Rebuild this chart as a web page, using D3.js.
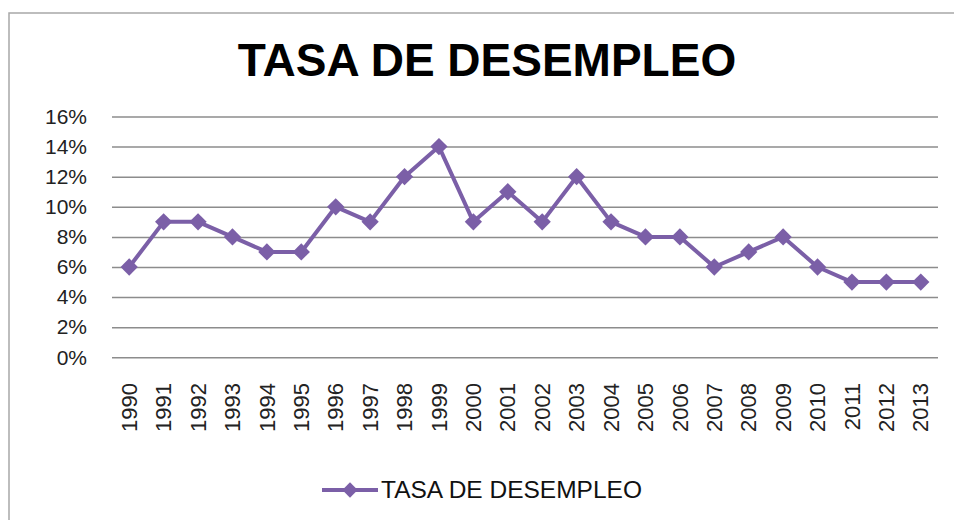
<!DOCTYPE html>
<html>
<head>
<meta charset="utf-8">
<script src="https://cdn.jsdelivr.net/npm/d3@7"></script>
<style>
  body { margin: 0; background: #fff; }
  svg { display: block; font-family: Arial, "Liberation Sans", sans-serif; }
</style>
</head>
<body>
<svg id="chart" width="954" height="520"></svg>
<script>
// datos
var years = ['1990','1991','1992','1993','1994','1995','1996','1997','1998','1999','2000','2001',
             '2002','2003','2004','2005','2006','2007','2008','2009','2010','2011','2012','2013'];
var tasa = [6, 9, 9, 8, 7, 7, 10, 9, 12, 14, 9, 11, 9, 12, 9, 8, 8, 6, 7, 8, 6, 5, 5, 5];
var yTicks = [0, 2, 4, 6, 8, 10, 12, 14, 16];
var seriesName = 'TASA DE DESEMPLEO';

var color = '#7b5fa7';
var svg = d3.select('#chart');

// marco del grafico
svg.append('rect')
  .attr('x', 9).attr('y', 13)
  .attr('width', 960).attr('height', 520)
  .attr('fill', 'none')
  .attr('stroke', '#a8a8a8')
  .attr('stroke-width', 1.5);

svg.append('text')
  .attr('x', 487).attr('y', 76)
  .attr('text-anchor', 'middle')
  .attr('font-size', 46)
  .attr('font-weight', 'bold')
  .attr('fill', '#000')
  .text(seriesName);

var x = d3.scaleBand().domain(years).range([112, 938]);
var y = d3.scaleLinear().domain([0, 16]).range([357.3, 116.5]);

// lineas de cuadricula
var yAxis = d3.axisLeft(y).tickValues(yTicks).tickSize(-(938 - 112)).tickPadding(25)
  .tickFormat(function (d) { return d + '%'; });
var gy = svg.append('g').attr('transform', 'translate(112,0)').call(yAxis);
gy.select('.domain').remove();
gy.selectAll('.tick line').attr('stroke', '#8c8c8c').attr('stroke-width', 1.5);
gy.selectAll('.tick text')
  .attr('font-size', 21)
  .attr('fill', '#222')
  .attr('font-family', 'Arial, "Liberation Sans", sans-serif');

// etiquetas de años giradas
var xAxis = d3.axisBottom(x).tickSize(0).tickPadding(0);
var gx = svg.append('g').attr('transform', 'translate(0,383)').call(xAxis);
gx.select('.domain').remove();
gx.selectAll('.tick text')
  .attr('transform', 'rotate(-90)')
  .attr('text-anchor', 'end')
  .attr('x', 0).attr('y', 0).attr('dy', '0.35em')
  .attr('font-size', 22)
  .attr('fill', '#222')
  .attr('font-family', 'Arial, "Liberation Sans", sans-serif');

var cx = function (d, i) { return x(years[i]) + x.bandwidth() / 2; };

var line = d3.line()
  .x(function (d, i) { return cx(d, i); })
  .y(function (d) { return y(d); });

svg.append('path')
  .datum(tasa)
  .attr('d', line)
  .attr('fill', 'none')
  .attr('stroke', color)
  .attr('stroke-width', 4)
  .attr('stroke-linejoin', 'round');

var diamond = d3.symbol().type(d3.symbolDiamond2).size(190);
svg.append('g').selectAll('path')
  .data(tasa)
  .join('path')
  .attr('d', diamond)
  .attr('transform', function (d, i) { return 'translate(' + cx(d, i) + ',' + y(d) + ')'; })
  .attr('fill', color);

// leyenda
var lg = svg.append('g');
lg.append('line')
  .attr('x1', 322).attr('x2', 378).attr('y1', 490).attr('y2', 490)
  .attr('stroke', color).attr('stroke-width', 4);
lg.append('path')
  .attr('d', d3.symbol().type(d3.symbolDiamond2).size(150))
  .attr('transform', 'translate(350,490)')
  .attr('fill', color);
lg.append('text')
  .attr('x', 381).attr('y', 498)
  .attr('font-size', 24.5)
  .attr('fill', '#111')
  .text(seriesName);
</script>
</body>
</html>
